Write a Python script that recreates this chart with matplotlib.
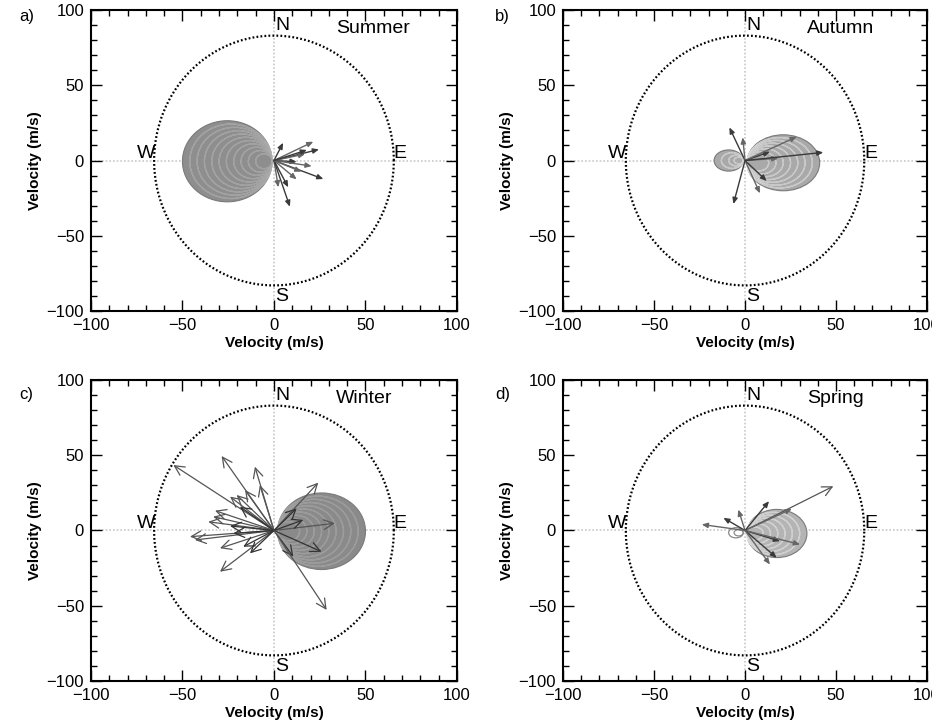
import numpy as np
import matplotlib.pyplot as plt
from matplotlib.patches import Ellipse
from matplotlib.ticker import MultipleLocator

plt.rcParams['font.family'] = ['Liberation Sans', 'DejaVu Sans']

# ARROW DATA (u = east, v = north, m/s)

summer_u = [5, 21.5, 24.6, 17, 12.4, 20.6, 27, 12.4, 7.8, 2.4, 8.7, 15, 18]
summer_v = [11.8, 12.5, 7.4, 4.3, -0.8, -3.7, -12.3, -12.5, -17.8, -17.8, -30.7, -7.4, 7]

autumn_u = [-8.6, -1.3, -6.4, 8.2, 11.9, 18.3, 13.7, 28.4, 43]
autumn_v = [22, 15.4, -28.9, -21.8, -13.6, 1.5, 5.8, 15.8, 5.4]

winter_u = [-55, -28.6, -10.4, -7.7, -15.8, -20.4, -24, -32.2, -35.9, -33.2,
            -45.9, -43.2, -29.5, -29.5, -13.1, -16.8, -22.2, -24, -18.6,
            24.2, 12.4, 33.3, 16, 26, 10.6, 28.8]
winter_v = [43.5, 49.5, 42.4, 30.2, 26.9, 23.6, 22.5, 13.2, 5.8, 9.2,
            -4.1, -6.3, -11.8, -27.4, -15.2, -10.8, -1.9, 3, 15.8,
            31.8, 14.7, 4.8, 7, -14.1, -17.4, -52.8]

spring_u = [48.5, 25.7, 13.2, -3.7, -11.9, -23.8, 19.2, 30.2, 17.4, 13.7]
spring_v = [29.4, 14.4, 19.5, 13.9, 8.4, 4, -7.1, -9.3, -18.1, -22.6]

# CONTOUR LOBES: size of each nested contour (m/s along x)

summer_lobe = [49, 45, 41, 37, 33, 29, 25, 21, 17, 13, 9]
autumn_lobe_e = [40, 36, 32, 28, 24, 20, 16, 12]
autumn_lobe_w = [16, 12, 8, 5]
winter_lobe = [48, 44, 40, 36, 32, 28, 24, 20, 16, 12]
spring_lobe_e = [33, 29, 25, 21, 17, 13, 9]
spring_lobe_w = [8, 5]

# (lobe, anchor x, direction, height/width, centre y, fill, line colour)
panels = [
    ("a)", "Summer", summer_u, summer_v,
     [(summer_lobe, -1, -1, 1.10, -0.5, '#8e8e8e', '#bdbdbd')], 'small'),
    ("b)", "Autumn", autumn_u, autumn_v,
     [(autumn_lobe_e, 1, 1, 0.93, -1.5, '#a9a9a9', '#f2f2f2'),
      (autumn_lobe_w, -1, -1, 0.88, 0, '#a9a9a9', '#f2f2f2')], 'small'),
    ("c)", "Winter", winter_u, winter_v,
     [(winter_lobe, 2, 1, 1.06, -0.5, '#8a8a8a', '#b3b3b3')], 'open'),
    ("d)", "Spring", spring_u, spring_v,
     [(spring_lobe_e, 1, 1, 0.97, -2, '#b4b4b4', '#f4f4f4'),
      (spring_lobe_w, -1, -1, 0.85, -1.5, 'none', '#8a8a8a')], 'mixed'),
]

fig = plt.figure(figsize=(9.32, 7.27), dpi=100)

boxes = [
    [0.0976, 0.5722, 0.3927, 0.4140],
    [0.6041, 0.5722, 0.3906, 0.4140],
    [0.0976, 0.0633, 0.3927, 0.4140],
    [0.6041, 0.0633, 0.3906, 0.4140],
]
tag_pos = [(0.021, 0.977), (0.531, 0.977), (0.021, 0.457), (0.531, 0.457)]

for i, (tag, season, us, vs, lobes, head) in enumerate(panels):
    ax = fig.add_axes(boxes[i])
    ax.set_xlim(-100, 100)
    ax.set_ylim(-100, 100)

    # grey dotted cross through origin
    ax.plot([-100, 100], [0, 0], color='#c8c8c8', lw=1.2, ls=(0, (1, 1.2)), zorder=1)
    ax.plot([0, 0], [-100, 100], color='#c8c8c8', lw=1.2, ls=(0, (1, 1.2)), zorder=1)

    # compass circle (round on screen)
    t = np.linspace(0, 2 * np.pi, 400)
    ax.plot(65.5 * np.cos(t), 83 * np.sin(t), color='black', lw=1.6,
            ls=(0, (0.8, 1.0)), zorder=2)

    # contour lobes
    for sizes, anchor, direc, aspect, cy, fill, edge in lobes:
        for k, s in enumerate(sizes):
            cx = anchor + direc * s / 2.0
            if k == 0 and fill != 'none':
                ax.add_patch(Ellipse((cx, cy), s, s * aspect, facecolor=fill,
                                     edgecolor='#7a7a7a', lw=0.8, zorder=3))
            else:
                ax.add_patch(Ellipse((cx, cy), s, s * aspect, facecolor='none',
                                     edgecolor=edge, lw=0.9, zorder=4))
            if fill != 'none' and k > 0:
                ax.add_patch(Ellipse((cx, cy), s, s * aspect, facecolor='none',
                                     edgecolor=fill, lw=0.4, zorder=4))

    # arrows
    for j, (u, v) in enumerate(zip(us, vs)):
        mag = np.hypot(u, v)
        if head == 'open' or (head == 'mixed' and mag > 40):
            style = '->,head_length=0.7,head_width=0.35'
            col = '#555555' if mag > 30 else '#333333'
            lw = 0.9
        else:
            style = '-|>,head_length=0.35,head_width=0.15'
            col = '#3a3a3a' if j % 2 == 0 else '#666666'
            lw = 1.0
        ax.annotate('', xy=(u, v), xytext=(0, 0),
                    arrowprops=dict(arrowstyle=style, color=col, lw=lw,
                                    shrinkA=0, shrinkB=0),
                    zorder=6)

    # compass letters
    ax.text(0.5, 84, 'N', fontsize=14, ha='left', va='bottom')
    ax.text(0.5, -85, 'S', fontsize=14, ha='left', va='top')
    ax.text(-65, -1, 'W', fontsize=14, ha='right', va='bottom')
    ax.text(65.5, -1, 'E', fontsize=14, ha='left', va='bottom')
    ax.text(34, 88, season, fontsize=14, ha='left', va='center')

    ax.xaxis.set_major_locator(MultipleLocator(50))
    ax.yaxis.set_major_locator(MultipleLocator(50))
    ax.xaxis.set_minor_locator(MultipleLocator(10))
    ax.yaxis.set_minor_locator(MultipleLocator(10))
    ax.tick_params(which='both', direction='in', top=True, right=True,
                   labelsize=12, width=1.0)
    ax.tick_params(which='major', length=8)
    ax.tick_params(which='minor', length=4)
    ax.tick_params(axis='x', pad=5)
    ax.tick_params(axis='y', pad=5)
    for sp in ax.spines.values():
        sp.set_linewidth(1.5)

    ax.set_xlabel("Velocity (m/s)", fontsize=11, fontweight='bold', labelpad=2)
    ax.set_ylabel("Velocity (m/s)", fontsize=11, fontweight='bold', labelpad=3)

    fig.text(tag_pos[i][0], tag_pos[i][1], tag, fontsize=12, ha='left', va='center')

plt.savefig("out.png", dpi=100)
plt.close()
